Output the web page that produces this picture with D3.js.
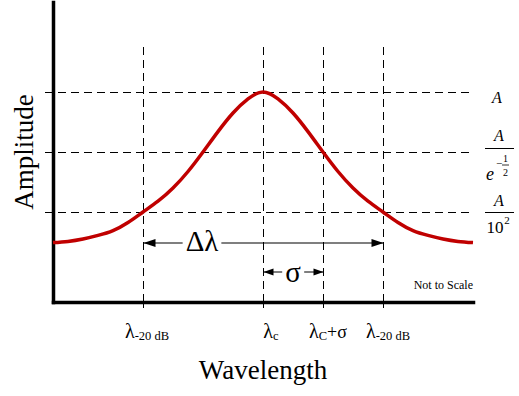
<!DOCTYPE html>
<meta charset="utf-8">
<script src="https://d3js.org/d3.v7.min.js"></script>
<style>
  body { margin: 0; background: #fff; }
  text { font-family: "Liberation Serif", "DejaVu Serif", serif; fill: #000; }
</style>
<body>
<div id="chart"></div>
<script>
// curve (wavelength in sigma units, amplitude in arbitrary units)
var waveX = [-3.5, -3.25, -3, -2.75, -2.5, -2.25, -2, -1.75, -1.5, -1.25, -1, -0.75, -0.5, -0.25, 0,
             0.25, 0.5, 0.75, 1, 1.25, 1.5, 1.75, 2, 2.25, 2.5, 2.75, 3, 3.25, 3.5];
var ampY  = [1.98, 2.02, 2.1, 2.22, 2.38, 2.65, 3.0, 3.36, 3.8, 4.35, 5.0, 5.68, 6.3, 6.77, 7.0,
             6.77, 6.3, 5.68, 5.0, 4.35, 3.8, 3.36, 3.0, 2.65, 2.38, 2.22, 2.1, 2.02, 1.98];

// reference lines
var xMarks = [-2, 0, 1, 2];
var xSubs = ["-20 dB", "c", "C", "-20 dB"];
var xTails = ["", "", "+σ", ""];
var yMarks = [7, 5, 3];

var width = 519, height = 396;

var svg = d3.select("#chart").append("svg")
  .attr("width", width)
  .attr("height", height);

var x = d3.scaleLinear().domain([-3.5, 3.5]).range([53, 473]);
var y = d3.scaleLinear().domain([0, 10]).range([302, 2]);

// dashed guide lines
svg.selectAll(".hguide")
  .data(yMarks)
  .enter().append("line")
  .attr("x1", 45).attr("x2", 474)
  .attr("y1", function(d) { return y(d) + 0.5; })
  .attr("y2", function(d) { return y(d) + 0.5; })
  .attr("stroke", "#000")
  .attr("stroke-width", 1)
  .attr("stroke-dasharray", "8,5");

svg.selectAll(".vguide")
  .data(xMarks)
  .enter().append("line")
  .attr("x1", function(d) { return x(d) + 0.5; })
  .attr("x2", function(d) { return x(d) + 0.5; })
  .attr("y1", y(8.5)).attr("y2", 307)
  .attr("stroke", "#000")
  .attr("stroke-width", 1)
  .attr("stroke-dasharray", "8,5");

// axes
var xAxis = svg.append("g")
  .attr("transform", "translate(0," + y(0) + ")")
  .call(d3.axisBottom(x).tickValues(xMarks).tickSize(6).tickSizeOuter(0).tickFormat(""));
xAxis.select(".domain").attr("stroke-width", 3.5).attr("stroke-linecap", "square");

var yAxis = svg.append("g")
  .attr("transform", "translate(" + x(-3.5) + ",0)")
  .call(d3.axisLeft(y).tickValues(yMarks).tickSize(7).tickSizeOuter(0).tickFormat(""));
yAxis.select(".domain").attr("stroke-width", 3.5).attr("stroke-linecap", "square");

// the curve
var pts = waveX.map(function(d, i) { return [d, ampY[i]]; });
svg.append("path")
  .datum(pts)
  .attr("fill", "none")
  .attr("stroke", "#c00000")
  .attr("stroke-width", 3.5)
  .attr("d", d3.line()
    .x(function(d) { return x(d[0]); })
    .y(function(d) { return y(d[1]); })
    .curve(d3.curveNatural));

// double arrows
function arrow(x1, x2, yy, len, hw) {
  svg.append("line")
    .attr("x1", x1).attr("x2", x2).attr("y1", yy).attr("y2", yy)
    .attr("stroke", "#000").attr("stroke-width", 1.2);
  svg.append("path")
    .attr("d", "M" + x1 + "," + yy + "L" + (x1 + len) + "," + (yy - hw) + "L" + (x1 + len) + "," + (yy + hw) + "Z")
    .attr("fill", "#000");
  svg.append("path")
    .attr("d", "M" + x2 + "," + yy + "L" + (x2 - len) + "," + (yy - hw) + "L" + (x2 - len) + "," + (yy + hw) + "Z")
    .attr("fill", "#000");
}

function boxedText(str, cx, by, size) {
  var g = svg.append("g");
  var r = g.append("rect").attr("fill", "#fff");
  var t = g.append("text")
    .attr("x", cx).attr("y", by)
    .attr("text-anchor", "middle")
    .style("font-size", size + "px")
    .text(str);
  var bb = t.node().getBBox();
  r.attr("x", bb.x - 3).attr("y", bb.y).attr("width", bb.width + 6).attr("height", bb.height);
}

arrow(x(-2) + 0.5, x(2) + 0.5, 243, 12, 4);
boxedText("Δλ", 202, 251, 29);
arrow(x(0) + 0.5, x(1) + 0.5, 272, 10, 3.5);
boxedText("σ", 293, 282, 29);

// x tick labels
var dxs = [4, 8, 5, 5];
xMarks.forEach(function(d, i) {
  var t = svg.append("text")
    .attr("x", x(d) + dxs[i])
    .attr("y", 338)
    .attr("text-anchor", "middle")
    .style("font-size", "20px");
  t.append("tspan").text("λ");
  t.append("tspan").attr("dy", 2).style("font-size", "12.5px").text(xSubs[i]);
  if (xTails[i]) t.append("tspan").attr("dy", -2).style("font-size", "18px").text(xTails[i]);
});

// right-hand level labels
var rx = 499;
svg.append("text").attr("x", rx - 2).attr("y", y(7) + 11)
  .attr("text-anchor", "middle").style("font-size", "16px").style("font-style", "italic").text("A");

svg.append("text").attr("x", rx).attr("y", y(5) - 11)
  .attr("text-anchor", "middle").style("font-size", "16px").style("font-style", "italic").text("A");
svg.append("line").attr("x1", 485).attr("x2", 514).attr("y1", y(5) - 3.5).attr("y2", y(5) - 3.5)
  .attr("stroke", "#000").attr("stroke-width", 1);
svg.append("text").attr("x", 490).attr("y", y(5) + 28)
  .attr("text-anchor", "middle").style("font-size", "18px").style("font-style", "italic").text("e");
svg.append("text").attr("x", 499).attr("y", y(5) + 15)
  .attr("text-anchor", "middle").style("font-size", "11px").text("−");
svg.append("text").attr("x", 505.5).attr("y", y(5) + 10)
  .attr("text-anchor", "middle").style("font-size", "10px").text("1");
svg.append("line").attr("x1", 502).attr("x2", 509).attr("y1", y(5) + 13).attr("y2", y(5) + 13)
  .attr("stroke", "#000").attr("stroke-width", 0.8);
svg.append("text").attr("x", 505.5).attr("y", y(5) + 24)
  .attr("text-anchor", "middle").style("font-size", "10px").text("2");

svg.append("text").attr("x", rx).attr("y", y(3) - 6)
  .attr("text-anchor", "middle").style("font-size", "16px").style("font-style", "italic").text("A");
svg.append("line").attr("x1", 485).attr("x2", 514).attr("y1", y(3) + 0.5).attr("y2", y(3) + 0.5)
  .attr("stroke", "#000").attr("stroke-width", 1);
svg.append("text").attr("x", 495).attr("y", y(3) + 21)
  .attr("text-anchor", "middle").style("font-size", "17px").text("10");
svg.append("text").attr("x", 507).attr("y", y(3) + 12)
  .attr("text-anchor", "middle").style("font-size", "11px").text("2");

// note
svg.append("text").attr("x", 473).attr("y", 289)
  .attr("text-anchor", "end").style("font-size", "12px").text("Not to Scale");

// axis titles
svg.append("text")
  .attr("transform", "translate(33,152) rotate(-90)")
  .attr("text-anchor", "middle")
  .style("font-size", "27px")
  .text("Amplitude");

svg.append("text")
  .attr("x", 263).attr("y", 379)
  .attr("text-anchor", "middle")
  .style("font-size", "27px")
  .text("Wavelength");
</script>
</body>
